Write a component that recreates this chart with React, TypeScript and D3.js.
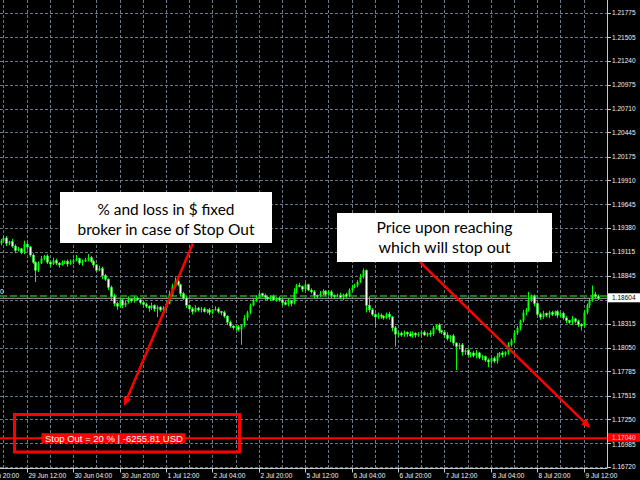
import { useMemo } from 'react';
import * as d3 from 'd3';

// EURUSD H1, first visible bar = 29 Jun 03:00
const firstOpen = 1.1921;
const closes = [
  1.1924, 1.1927, 1.1921, 1.1923, 1.1918, 1.1913, 1.1915, 1.1911, 1.1920, 1.1917, 1.1908, 1.1900, 1.1891, 1.1899, 1.1904, 1.1907,
  1.1900, 1.1898, 1.1902, 1.1899, 1.1897, 1.1900, 1.1901, 1.1898, 1.1900, 1.1902, 1.1904, 1.1899, 1.1901, 1.1903, 1.1905, 1.1901,
  1.1897, 1.1891, 1.1893, 1.1885, 1.1881, 1.1872, 1.1862, 1.1854, 1.1851, 1.1858, 1.1852, 1.1855, 1.1859, 1.1857, 1.1860, 1.1858,
  1.1855, 1.1853, 1.1851, 1.1849, 1.1852, 1.1848, 1.1850, 1.1847, 1.1849, 1.1854, 1.1864, 1.1873, 1.1879, 1.1875, 1.1865, 1.1860,
  1.1852, 1.1848, 1.1845, 1.1849, 1.1847, 1.1848, 1.1845, 1.1847, 1.1844, 1.1847, 1.1848, 1.1845, 1.1844, 1.1840, 1.1833, 1.1829,
  1.1827, 1.1828, 1.1825, 1.1830, 1.1838, 1.1844, 1.1852, 1.1858, 1.1860, 1.1865, 1.1863, 1.1861, 1.1859, 1.1862, 1.1858, 1.1860,
  1.1858, 1.1855, 1.1853, 1.1857, 1.1854, 1.1867, 1.1874, 1.1873, 1.1870, 1.1875, 1.1869, 1.1867, 1.1863, 1.1862, 1.1865, 1.1868,
  1.1864, 1.1867, 1.1863, 1.1862, 1.1863, 1.1861, 1.1864, 1.1862, 1.1869, 1.1872, 1.1874, 1.1878, 1.1884, 1.1891, 1.1852, 1.1847,
  1.1842, 1.1839, 1.1841, 1.1840, 1.1838, 1.1842, 1.1839, 1.1827, 1.1820, 1.1821, 1.1819, 1.1822, 1.1820, 1.1818, 1.1821, 1.1819,
  1.1820, 1.1822, 1.1819, 1.1821, 1.1820, 1.1827, 1.1830, 1.1824, 1.1822, 1.1819, 1.1815, 1.1818, 1.1810, 1.1806, 1.1808, 1.1800,
  1.1802, 1.1797, 1.1799, 1.1796, 1.1799, 1.1794, 1.1795, 1.1791, 1.1789, 1.1793, 1.1790, 1.1796, 1.1799, 1.1797, 1.1800, 1.1808,
  1.1813, 1.1821, 1.1827, 1.1835, 1.1844, 1.1847, 1.1858, 1.1862, 1.1854, 1.1842, 1.1839, 1.1843, 1.1841, 1.1844, 1.1842, 1.1845,
  1.1841, 1.1843, 1.1838, 1.1835, 1.1833, 1.1837, 1.1834, 1.1831, 1.1829, 1.1844, 1.1852, 1.1858, 1.1864, 1.1862, 1.1860,
];
// upper / lower shadow beyond the body, in pips
const wickUp = [
  2, 3, 2, 1, 3, 2, 2, 1, 4, 2, 1, 2, 1, 2, 3, 1,
  2, 1, 3, 2, 1, 2, 1, 2, 3, 2, 4, 1, 2, 2, 4, 2,
  2, 1, 3, 2, 2, 1, 2, 3, 2, 1, 2, 2, 3, 1, 2, 2,
  1, 2, 2, 1, 3, 1, 2, 1, 2, 2, 4, 3, 4, 2, 1, 2,
  2, 1, 2, 3, 1, 2, 2, 1, 2, 1, 3, 2, 1, 2, 1, 2,
  1, 2, 2, 1, 3, 2, 2, 1, 3, 2, 1, 2, 2, 1, 2, 1,
  2, 1, 2, 3, 1, 4, 2, 3, 1, 2, 1, 2, 2, 1, 3, 2,
  1, 2, 2, 1, 2, 3, 1, 2, 2, 3, 2, 2, 3, 2, 1, 10,
  2, 1, 3, 2, 1, 2, 3, 1, 2, 1, 2, 2, 1, 3, 2, 1,
  2, 1, 2, 1, 3, 2, 1, 2, 1, 2, 3, 1, 2, 1, 2, 2,
  1, 2, 1, 2, 3, 1, 2, 1, 2, 1, 2, 3, 1, 2, 1, 3,
  2, 3, 2, 1, 3, 2, 9, 2, 2, 1, 2, 3, 1, 2, 2, 1,
  2, 1, 2, 2, 1, 3, 1, 2, 1, 3, 2, 2, 10, 3, 2,
];
const wickDown = [
  2, 1, 3, 2, 2, 3, 1, 2, 2, 3, 2, 2, 13, 2, 1, 2,
  2, 3, 1, 2, 3, 1, 2, 3, 1, 2, 1, 2, 3, 1, 2, 2,
  3, 2, 1, 4, 2, 3, 5, 3, 4, 2, 3, 2, 1, 2, 2, 1,
  2, 3, 2, 4, 2, 3, 9, 2, 3, 2, 1, 2, 1, 2, 3, 2,
  3, 2, 3, 1, 2, 3, 1, 2, 3, 2, 1, 2, 3, 2, 3, 2,
  2, 3, 2, 17, 2, 3, 2, 1, 2, 1, 2, 3, 1, 2, 1, 2,
  2, 3, 1, 2, 3, 1, 2, 1, 3, 2, 1, 2, 3, 2, 1, 2,
  2, 1, 3, 2, 1, 2, 3, 2, 1, 2, 1, 2, 1, 2, 8, 3,
  2, 11, 2, 3, 2, 1, 3, 4, 14, 3, 2, 2, 3, 1, 2, 3,
  2, 3, 1, 2, 3, 2, 2, 3, 2, 3, 2, 4, 3, 26, 3, 4,
  3, 2, 3, 2, 3, 2, 3, 2, 6, 3, 2, 3, 2, 3, 2, 3,
  2, 3, 2, 3, 2, 3, 2, 2, 3, 2, 3, 2, 2, 3, 2, 2,
  3, 2, 2, 3, 2, 3, 2, 3, 5, 2, 2, 3, 2, 3, 2,
];

const priceTicks = [
  1.21775, 1.21505, 1.2124, 1.20975, 1.2071, 1.20445, 1.20175, 1.1991, 1.19645, 1.1938,
  1.19115, 1.18845, 1.1858, 1.18315, 1.1805, 1.17785, 1.17515, 1.1725, 1.16985, 1.1672,
];
const timeLabels = [
  '28 Jun 20:00', '29 Jun 12:00', '30 Jun 04:00', '30 Jun 20:00', '1 Jul 12:00', '2 Jul 04:00', '2 Jul 20:00',
  '5 Jul 12:00', '6 Jul 04:00', '6 Jul 20:00', '7 Jul 12:00', '8 Jul 04:00', '8 Jul 20:00', '9 Jul 12:00',
];
const timeLabelBars = [-7, 9, 25, 41, 57, 73, 89, 105, 121, 137, 153, 169, 185, 201];

const bidPrice = 1.18604;
const orderPrice = 1.18625;
const stopOutPrice = 1.1704;
const stopOutText = 'Stop Out = 20 % | -6255.81 USD';

// callouts: arrow ends in (bar, price)
const notes = [
  {
    lines: ['% and loss in $ fixed', 'broker in case of Stop Out'],
    box: { x: 60, y: 192, w: 212, h: 51 },
    widths: [137, 177],
    baselines: [215, 234.5],
    from: [66.3, 1.1921],
    to: [42.5, 1.174],
  },
  {
    lines: ['Price upon reaching', 'which will stop out'],
    box: { x: 337, y: 213, w: 215, h: 49 },
    widths: [136, 132],
    baselines: [233, 253],
    from: [144.6, 1.19],
    to: [203.3, 1.17155],
  },
];

const RIGHT = 607;
const BOTTOM = 468.5;
const GRID = '#778899';
const LIME = '#00ff00';

export default function App() {
  const x = useMemo(() => d3.scaleLinear().domain([9, 201]).range([26.7, 583.6]), []);
  const y = useMemo(() => d3.scaleLinear().domain([1.1672, 1.21775]).range([467, 13]), []);

  const bars = closes.map((c, i) => {
    const o = i === 0 ? firstOpen : closes[i - 1];
    return {
      i,
      o,
      c,
      h: Math.max(o, c) + wickUp[i] * 0.0001,
      l: Math.min(o, c) - wickDown[i] * 0.0001,
    };
  });

  const vGrid = d3.range(1, 210, 8);
  const font = 'Liberation Sans, Arial, sans-serif';
  // the bid label box hides the tick label underneath it
  const shownTicks = priceTicks.filter((p) => Math.abs(y(p) - y(bidPrice)) > 6);

  return (
    <svg width={640} height={480} style={{ position: 'fixed', left: 0, top: 0, background: '#000' }}>
      <rect width={640} height={480} fill="#000" />
      <defs>
        <clipPath id="plot">
          <rect x={0} y={0} width={RIGHT} height={BOTTOM} />
        </clipPath>
      </defs>

      {/* grid */}
      <g stroke={GRID} strokeWidth={1} strokeDasharray="3,2" opacity={0.9}>
        {vGrid.map((b) => (
          <line key={b} x1={Math.round(x(b)) + 0.5} x2={Math.round(x(b)) + 0.5} y1={0} y2={BOTTOM} />
        ))}
        {priceTicks.map((p) => (
          <line key={p} x1={0} x2={RIGHT} y1={Math.round(y(p)) + 0.5} y2={Math.round(y(p)) + 0.5} />
        ))}
      </g>

      {/* order & bid lines */}
      <g clipPath="url(#plot)">
        <line x1={0} x2={RIGHT} y1={y(orderPrice)} y2={y(orderPrice)} stroke="#1d7a1d" strokeWidth={2} strokeDasharray="7,3" />
        <line x1={0} x2={RIGHT} y1={y(bidPrice) + 0.5} y2={y(bidPrice) + 0.5} stroke="#a9a9a9" strokeWidth={1} />
      </g>
      <text x={0} y={y(orderPrice) - 2} fontSize={6.5} fontFamily={font} fill="#fff">0</text>

      {/* candles */}
      <g clipPath="url(#plot)">
        {bars.map((b) => {
          const cx = Math.round(x(b.i)) + 0.5;
          const top = y(Math.max(b.o, b.c));
          const bh = Math.max(1, Math.abs(y(b.o) - y(b.c)));
          const bull = b.c >= b.o;
          return (
            <g key={b.i}>
              <line x1={cx} x2={cx} y1={y(b.h)} y2={y(b.l)} stroke={LIME} strokeWidth={1} />
              <rect
                x={cx - 1}
                y={top}
                width={2}
                height={bh}
                fill={bull ? LIME : '#ffffff'}
                stroke={bull ? 'none' : LIME}
                strokeWidth={0.5}
              />
            </g>
          );
        })}
      </g>

      {/* stop-out line */}
      <line x1={0} x2={RIGHT} y1={y(stopOutPrice)} y2={y(stopOutPrice)} stroke="#ff0000" strokeWidth={2} />
      <rect x={41.5} y={y(stopOutPrice) - 5} width={144} height={10} fill="#ff0000" />
      <text x={45} y={y(stopOutPrice) + 3.4} fontSize={9.5} fontFamily={font} fill="#fff">
        {stopOutText}
      </text>
      <rect x={14.5} y={414.5} width={225} height={37.5} fill="none" stroke="#ff0000" strokeWidth={3} />

      {/* axes */}
      <line x1={RIGHT + 0.5} x2={RIGHT + 0.5} y1={0} y2={BOTTOM} stroke="#c8c8c8" strokeWidth={1} />
      <line x1={0} x2={RIGHT} y1={BOTTOM} y2={BOTTOM} stroke="#c8c8c8" strokeWidth={1} />
      {priceTicks.map((p) => (
        <line key={p} x1={RIGHT} x2={RIGHT + 4} y1={Math.round(y(p)) + 0.5} y2={Math.round(y(p)) + 0.5} stroke="#c8c8c8" />
      ))}
      {shownTicks.map((p) => (
        <text key={p} x={612} y={y(p) + (p === 1.16985 ? 1.5 : 0)} dy="0.35em" fontSize={6.5} fontFamily={font} fill="#f0f0f0">
          {p.toFixed(5)}
        </text>
      ))}
      {timeLabels.map((t, k) => {
        const tx = Math.round(x(timeLabelBars[k])) + 0.5;
        return (
          <g key={t}>
            <line x1={tx} x2={tx} y1={BOTTOM} y2={BOTTOM + 4} stroke="#c8c8c8" />
            <text x={tx + 1} y={477.5} fontSize={6.5} fontFamily={font} fill="#f0f0f0">
              {t}
            </text>
          </g>
        );
      })}

      {/* price labels on the axis */}
      <rect x={608} y={y(bidPrice) - 4.5} width={32} height={9} fill="#fff" />
      <text x={612} y={y(bidPrice)} dy="0.35em" fontSize={6.5} fontFamily={font} fill="#000">
        {bidPrice.toFixed(5)}
      </text>
      <rect x={608} y={y(stopOutPrice) - 5} width={32} height={8.5} fill="#ff0000" />
      <text x={612} y={y(stopOutPrice) - 0.8} dy="0.35em" fontSize={6.5} fontFamily={font} fill="#ffd0d0">
        {stopOutPrice.toFixed(5)}
      </text>

      {/* callouts */}
      {notes.map((n, k) => {
        const x1 = x(n.from[0]);
        const y1 = y(n.from[1]);
        const x2 = x(n.to[0]);
        const y2 = y(n.to[1]);
        const ang = Math.atan2(y2 - y1, x2 - x1);
        const len = 9;
        const hw = 4;
        const bx = x2 - len * Math.cos(ang);
        const by = y2 - len * Math.sin(ang);
        const px = -Math.sin(ang) * hw;
        const py = Math.cos(ang) * hw;
        const head = `M${x2},${y2}L${bx + px},${by + py}L${bx - px},${by - py}Z`;
        const cx = n.box.x + n.box.w / 2;
        return (
          <g key={k}>
            <rect x={n.box.x} y={n.box.y} width={n.box.w} height={n.box.h} fill="#fff" />
            {n.lines.map((line, j) => (
              <text
                key={j}
                x={cx}
                y={n.baselines[j]}
                textAnchor="middle"
                fontSize={15.5}
                fontFamily="Lato, 'Open Sans', sans-serif"
                fill="#000"
                textLength={n.widths[j]}
                lengthAdjust="spacingAndGlyphs"
              >
                {line}
              </text>
            ))}
            <line x1={x1} y1={y1} x2={bx} y2={by} stroke="#ff0000" strokeWidth={2.5} />
            <path d={head} fill="#ff0000" />
          </g>
        );
      })}
    </svg>
  );
}
